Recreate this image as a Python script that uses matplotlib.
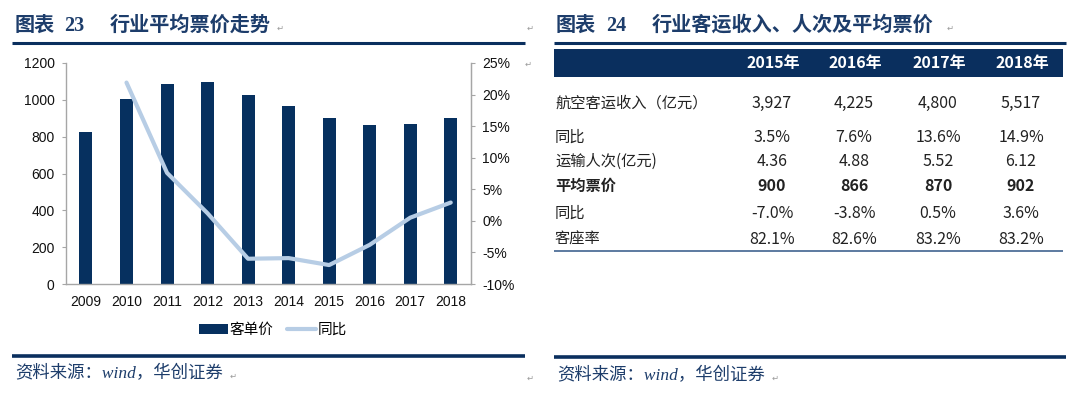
import matplotlib
matplotlib.use("Agg")
import matplotlib.pyplot as plt
import numpy as np
from matplotlib.patches import Rectangle
from matplotlib.lines import Line2D
from matplotlib.ticker import FuncFormatter, MultipleLocator

# ---------------- data ----------------
years = ["2009", "2010", "2011", "2012", "2013", "2014", "2015", "2016", "2017", "2018"]
ticket_price = [825, 1005, 1084, 1095, 1027, 966, 900, 866, 870, 902]
growth_years = ["2010", "2011", "2012", "2013", "2014", "2015", "2016", "2017", "2018"]
growth_pct = [21.9, 7.6, 1.2, -6.0, -5.9, -7.0, -3.8, 0.5, 2.9]

table_cols = ["2015年", "2016年", "2017年", "2018年"]
row_labels = ["航空客运收入（亿元）", "同比", "运输人次(亿元)", "平均票价", "同比", "客座率"]
row_revenue = ["3,927", "4,225", "4,800", "5,517"]
row_revenue_yoy = ["3.5%", "7.6%", "13.6%", "14.9%"]
row_passengers = ["4.36", "4.88", "5.52", "6.12"]
row_avg_price = ["900", "866", "870", "902"]
row_price_yoy = ["-7.0%", "-3.8%", "0.5%", "3.6%"]
row_load_factor = ["82.1%", "82.6%", "83.2%", "83.2%"]

# ---------------- style ----------------
W, H = 1071, 393
NAVY = "#0A2F5E"
BAR = "#06305F"
LINE = "#B7CDE5"
TITLE = "#1D3D6B"
CJK = "Noto Sans CJK SC"
SANS = ["Liberation Sans", CJK]
SERIF = ["Liberation Serif", CJK]

def fx(x):
    return x / W

def fy(y):
    return 1 - y / H

fig = plt.figure(figsize=(W / 100, H / 100), dpi=100)
fig.patch.set_facecolor("white")

def hline(x0, x1, y, color, lw):
    fig.add_artist(Line2D([fx(x0), fx(x1)], [fy(y), fy(y)], transform=fig.transFigure,
                          color=color, lw=lw, solid_capstyle="butt"))

def ret_mark(x, y):
    fig.text(fx(x), fy(y), "↵", fontsize=6, color="#9a9a9a", family="DejaVu Sans",
             ha="left", va="center")

# ---------------- left panel: chart ----------------
fig.text(fx(15), fy(26), "图表", fontsize=14.5, fontweight="bold", color=TITLE, family=SERIF,
         ha="left", va="center")
fig.text(fx(64), fy(26), "23", fontsize=14.5, fontweight="bold", color=TITLE, family=SERIF,
         ha="left", va="center")
fig.text(fx(110), fy(26), "行业平均票价走势", fontsize=14.5, fontweight="bold", color=TITLE,
         family=SERIF, ha="left", va="center")
ret_mark(277, 28)
ret_mark(527, 28)
hline(12, 525, 43, NAVY, 2.2)

ax = fig.add_axes([fx(65.7), fy(284), fx(471) - fx(65.7), fy(63) - fy(284)])
x = np.arange(len(years))
bars = ax.bar(x, ticket_price, width=0.32, color=BAR, zorder=2, label="客单价")
ax.set_xlim(-0.5, len(years) - 0.5)
ax.set_ylim(0, 1200)
ax.yaxis.set_major_locator(MultipleLocator(200))
ax.set_xticks(x)
ax.set_xticklabels(years)
ax.spines["top"].set_visible(False)
for s in ["left", "bottom", "right"]:
    ax.spines[s].set_color("#A6A6A6")
    ax.spines[s].set_linewidth(1.0)
ax.tick_params(axis="y", direction="out", length=3, width=0.8, color="#A6A6A6",
               labelsize=10, pad=5, labelcolor="#111111")
ax.tick_params(axis="x", length=0, labelsize=10, pad=8, labelcolor="#111111")
for lab in ax.get_xticklabels() + ax.get_yticklabels():
    lab.set_family(SANS)

ax2 = ax.twinx()
gx = [years.index(g) for g in growth_years]
line, = ax2.plot(gx, growth_pct, color=LINE, lw=3, solid_joinstyle="round",
                 solid_capstyle="round", zorder=3, label="同比")
ax2.set_ylim(-10, 25)
ax2.yaxis.set_major_locator(MultipleLocator(5))
ax2.yaxis.set_major_formatter(FuncFormatter(lambda v, p: f"{v:.0f}%"))
ax2.spines["top"].set_visible(False)
ax2.spines["left"].set_visible(False)
ax2.spines["bottom"].set_visible(False)
ax2.spines["right"].set_color("#A6A6A6")
ax2.tick_params(axis="y", direction="out", length=3, width=0.8, color="#A6A6A6",
                labelsize=10, pad=5, labelcolor="#111111")
for lab in ax2.get_yticklabels():
    lab.set_family(SANS)
ret_mark(525, 64)

leg = fig.legend(handles=[bars, line], labels=["客单价", "同比"], loc="center",
                 bbox_to_anchor=(fx(273), fy(330)), ncol=2, frameon=False,
                 handlelength=2.0, handletextpad=0.1, columnspacing=0.9,
                 prop={"family": SANS, "size": 10.5})

hline(12, 525, 356, NAVY, 2.6)
fig.text(fx(15), fy(374), "资料来源：wind，华创证券", fontsize=12.5, style="italic",
         color=TITLE, family=SERIF, ha="left", va="center")
ret_mark(230, 376)
ret_mark(527, 378)

# ---------------- right panel: table ----------------
fig.text(fx(556), fy(26), "图表", fontsize=14.5, fontweight="bold", color=TITLE, family=SERIF,
         ha="left", va="center")
fig.text(fx(606), fy(26), "24", fontsize=14.5, fontweight="bold", color=TITLE, family=SERIF,
         ha="left", va="center")
fig.text(fx(652), fy(26), "行业客运收入、人次及平均票价", fontsize=14.5, fontweight="bold",
         color=TITLE, family=SERIF, ha="left", va="center")
ret_mark(947, 28)
hline(554, 1066, 43, NAVY, 2.2)

fig.add_artist(Rectangle((fx(554), fy(77)), fx(1063) - fx(554), fy(49) - fy(77),
                         transform=fig.transFigure, facecolor=NAVY, edgecolor="none"))
col_x = [773, 855, 939, 1022]
for cx, c in zip(col_x, table_cols):
    fig.text(fx(cx), fy(63), c, fontsize=11.5, fontweight="bold", color="white",
             family=CJK, ha="center", va="center")

row_values = [row_revenue, row_revenue_yoy, row_passengers, row_avg_price,
              row_price_yoy, row_load_factor]
row_y = [103, 137, 161, 186, 213, 239]
for lab, vals, ry in zip(row_labels, row_values, row_y):
    wt = "bold" if lab == "平均票价" else "normal"
    fig.text(fx(555), fy(ry), lab, fontsize=11, fontweight=wt, color="#222222",
             family=CJK, ha="left", va="center")
    for cx, v in zip(col_x, vals):
        fig.text(fx(cx - 1), fy(ry), v, fontsize=11.5, fontweight=wt, color="#222222",
                 family=CJK, ha="center", va="center")

hline(554, 1063, 251, "#4F6F98", 1.3)

hline(554, 1066, 357, NAVY, 2.6)
fig.text(fx(557), fy(376), "资料来源：wind，华创证券", fontsize=12.5, style="italic",
         color=TITLE, family=SERIF, ha="left", va="center")
ret_mark(772, 378)

fig.savefig("out.png", dpi=100, facecolor="white")
